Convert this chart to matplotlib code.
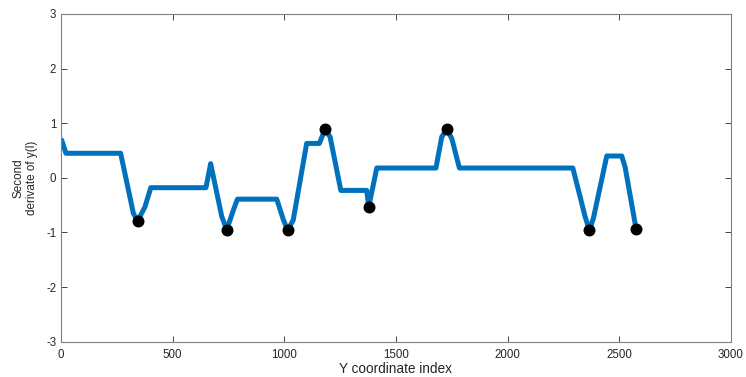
import matplotlib
matplotlib.use("Agg")
import matplotlib.pyplot as plt
import numpy as np

# curve knots (index, value)
x_idx = [3, 22, 267, 324, 343, 376, 402, 649, 670, 720, 742, 772, 790,
         966, 996, 1015, 1040, 1100, 1157, 1182, 1205, 1253, 1369, 1378, 1414,
         1679, 1705, 1727, 1750, 1784, 2292, 2347, 2366, 2384, 2444, 2511, 2526,
         2575]
y_val = [0.69, 0.45, 0.45, -0.65, -0.79, -0.53, -0.18, -0.18, 0.26, -0.71, -0.95, -0.59, -0.39,
         -0.39, -0.77, -0.96, -0.77, 0.63, 0.63, 0.89, 0.75, -0.23, -0.23, -0.53, 0.18,
         0.18, 0.75, 0.89, 0.72, 0.18, 0.18, -0.71, -0.96, -0.74, 0.40, 0.40, 0.20,
         -0.93]

# extrema marked with black dots
peak_x = [343, 742, 1015, 1182, 1378, 1727, 2366, 2575]
peak_y = [-0.79, -0.95, -0.96, 0.89, -0.53, 0.89, -0.96, -0.93]

plt.rcParams["font.family"] = ["Liberation Sans", "DejaVu Sans"]
plt.rcParams["axes.unicode_minus"] = False

fig = plt.figure(figsize=(7.46, 3.77), dpi=100)
ax = fig.add_axes([0.0818, 0.0936, 0.898, 0.8693])

ax.plot(x_idx, y_val, color="#0072BD", linewidth=3.6, solid_joinstyle="round",
        solid_capstyle="round", zorder=2)
ax.plot(peak_x, peak_y, "o", color="black", markersize=7.6, zorder=3)

ax.set_xlim(0, 3000)
ax.set_ylim(-3, 3)
ax.set_xticks(np.arange(0, 3001, 500))
ax.set_yticks(np.arange(-3, 4, 1))
ax.tick_params(direction="in", length=4, width=0.6, colors="#262626",
               labelsize=8.3, top=True, right=True)
ax.tick_params(axis="x", pad=5)
for s in ax.spines.values():
    s.set_color("#808080")
    s.set_linewidth(0.8)

ax.set_xlabel("Y coordinate index", fontsize=9.8, color="#262626", labelpad=1)
ax.set_ylabel("Second\nderivate of y(l)", fontsize=8.4, color="#262626")
ax.yaxis.set_label_coords(-0.034, 0.5)

fig.savefig("out.png", dpi=100)
